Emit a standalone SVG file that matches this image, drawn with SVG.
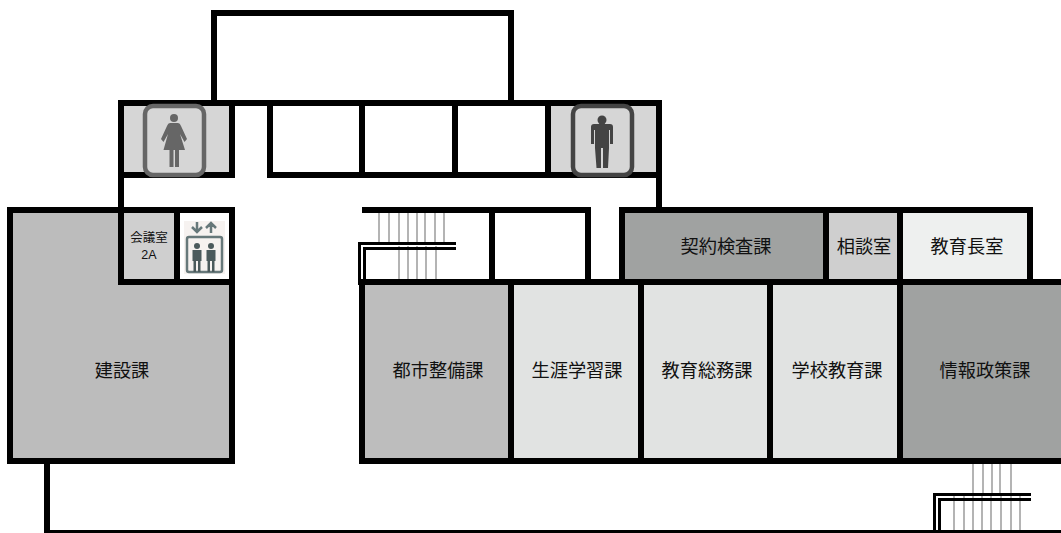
<svg xmlns="http://www.w3.org/2000/svg" width="1061" height="533" viewBox="0 0 1061 533">
<style>
.w{fill:none;stroke:#000;stroke-width:6;stroke-linecap:butt;stroke-linejoin:miter}
.s{fill:none;stroke:#000;stroke-width:3}
.g{stroke:#b4b4b4;stroke-width:2;fill:none}
.t{font-family:"Noto Sans CJK JP","Noto Sans CJK SC",sans-serif;font-size:18.2px;fill:#111;text-anchor:middle}
.m{font-family:"Noto Sans CJK JP",sans-serif;font-size:12.5px;fill:#111;text-anchor:middle}
.l{font-family:"Liberation Sans",sans-serif;font-size:12.5px;fill:#111;text-anchor:middle}
</style>
<rect width="1061" height="533" fill="#fff"/>
<g id="fills">
<path d="M10 210H121V282H232V461H10Z" fill="#bcbcbc"/>
<rect x="121" y="210" width="56" height="72" fill="#cfcfcf"/>
<rect x="362" y="282" width="149" height="179" fill="#bdbdbd"/>
<rect x="511" y="282" width="130" height="179" fill="#e1e3e2"/>
<rect x="641" y="282" width="129" height="179" fill="#e1e3e2"/>
<rect x="770" y="282" width="130" height="179" fill="#e1e3e2"/>
<rect x="900" y="282" width="161" height="179" fill="#a0a2a1"/>
<rect x="622" y="210" width="204" height="72" fill="#a0a2a1"/>
<rect x="826" y="210" width="74" height="72" fill="#cfcfcf"/>
<rect x="900" y="210" width="130" height="72" fill="#eef0ef"/>
<rect x="124" y="105" width="105" height="68" fill="#d6d6d6"/>
<rect x="551" y="105" width="105" height="68" fill="#d6d6d6"/>
</g>
<g id="stairs">
<path class="g" d="M379 209V244M389 209V244M399 209V244M408 209V244M417 209V244M425 209V244M435 209V244M444 209V244M399 246V281M408 246V281M417 246V281M426 246V281M436 246V280"/>
<path class="g" d="M973 460V494M983 460V494M992 460V494M1000 460V494M1011 460V494M954 495V531M964 495V531M973 495V531M982 495V531M991 495V532M1001 495V531M1011 495V531M1020 495V531"/>
<path class="s" d="M456 243.500H359.500V285M456 248.500H364.500V280"/>
<path class="s" d="M1031 494.500H934.500V533M1031 499.500H939.500V533"/>
</g>
<g id="walls">
<path class="w" d="M214 103V13H511M511 10V103"/>
<path class="w" d="M118 103H662M659 100V208M121 100V210M118 175H235M232 100V178"/>
<path class="w" d="M270 103V178M267 175H656M362 103V175M455 103V175M548 103V175"/>
<path class="w" d="M7 210H235M10 207V464M7 461H235M232 207V464M121 210V285M118 282H235M177 210V282"/>
<path class="w" d="M362 210H591M588 207V282M492 210V282"/>
<path class="w" d="M359 282H1061M362 279V464M359 461H1061M511 282V461M641 282V461M770 282V461M900 207V461"/>
<path class="w" d="M622 285V210M619 210H1033M1030 207V282M826 210V282"/>
<path class="w" d="M47 464V533"/>
<rect x="44" y="530" width="1017" height="3"/>
</g>
<g id="room-female">
<rect x="145" y="106" width="59" height="69" rx="8" fill="#d6d6d6" stroke="#666" stroke-width="4.500"/>
<path fill="#666" d="M170 123H178Q180 123 181 126L187 139 184.500 142 180 134 185 150H179V167H175V150H173.500V167H169.500V150H163.500L168 134 163.500 142 161 139 167 126Q168 123 170 123Z"/>
<circle cx="174" cy="118" r="4" fill="#666"/>
</g>
<g id="room-male">
<rect x="573" y="106" width="59" height="69" rx="8" fill="#d6d6d6" stroke="#444" stroke-width="4.500"/>
<path fill="#444" d="M594 124H610Q613 124 613 127V144H610V130H609V148L608 168H603V148H601V168H596.500L595 148V130H594V144H591V127Q591 124 594 124Z"/>
<circle cx="602" cy="120" r="4.500" fill="#444"/>
</g>
<g id="elevator">
<rect x="180" y="213" width="49" height="66" fill="#fff"/>
<rect x="184" y="221" width="41" height="53" fill="#f6f2f0"/>
<rect x="187" y="237" width="35" height="35" rx="2" fill="none" stroke="#66787a" stroke-width="2.500"/>
<path fill="none" stroke="#66787a" stroke-width="2.500" d="M197 222V232M192 227L197 232 202 227M211 233V223M206 228L211 223 216 228"/>
<g fill="#4b5a5c">
<circle cx="197" cy="246" r="3"/><circle cx="211" cy="246" r="3"/>
<path d="M192.500 250H201.500V261H200.500V272H198V261H196V272H193.500V261H192.500Z"/>
<path d="M206.500 250H215.500V261H214.500V272H212V261H210V272H207.500V261H206.500Z"/>
</g>
</g>
<g id="labels">
<text class="t" x="122" y="377">建設課</text>
<text class="m" x="149" y="242">会議室</text>
<text class="l" x="149" y="259">2A</text>
<text class="t" x="438" y="377">都市整備課</text>
<text class="t" x="577" y="377">生涯学習課</text>
<text class="t" x="707" y="377">教育総務課</text>
<text class="t" x="837" y="377">学校教育課</text>
<text class="t" x="985" y="377">情報政策課</text>
<text class="t" x="726" y="253">契約検査課</text>
<text class="t" x="864" y="253">相談室</text>
<text class="t" x="967" y="253">教育長室</text>
</g>
</svg>
